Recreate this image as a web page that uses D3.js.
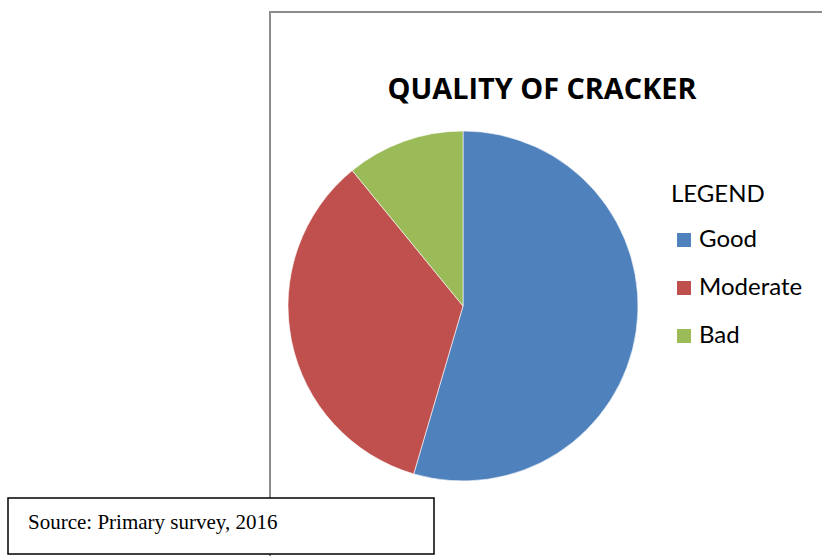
<!DOCTYPE html>
<html>
<head>
<meta charset="utf-8">
<script src="https://cdn.jsdelivr.net/npm/d3@7/dist/d3.min.js"></script>
<style>
  html, body { margin: 0; padding: 0; background: #fff; }
  svg { display: block; }
</style>
</head>
<body>
<svg id="chart" width="822" height="556"></svg>
<script>
// Survey responses on cracker quality
const categories = ["Good", "Moderate", "Bad"];
const counts = [60, 38, 12];
const colors = ["#4F81BD", "#C0504D", "#9BBB59"];
const titleText = "QUALITY OF CRACKER";
const legendTitle = "LEGEND";
const sourceText = "Source: Primary survey, 2016";

const svg = d3.select("#chart");
const data = categories.map((c, i) => ({ category: c, value: counts[i] }));

// chart frame (open on the right)
svg.append("rect")
  .attr("x", 270).attr("y", 12)
  .attr("width", 600).attr("height", 600)
  .attr("fill", "#fff")
  .attr("stroke", "#8c8c8c")
  .attr("stroke-width", 2);

// title
svg.append("text")
  .attr("x", 542).attr("y", 99)
  .attr("text-anchor", "middle")
  .attr("font-family", "'Open Sans', Lato, sans-serif")
  .attr("font-weight", "bold")
  .attr("font-size", 28)
  .attr("textLength", 309)
  .attr("lengthAdjust", "spacingAndGlyphs")
  .attr("fill", "#000")
  .text(titleText);

// pie
const color = d3.scaleOrdinal().domain(categories).range(colors);
const pie = d3.pie().value(d => d.value).sort(null);
const arc = d3.arc().innerRadius(0).outerRadius(175);

const g = svg.append("g").attr("transform", "translate(463,306)");
g.selectAll("path")
  .data(pie(data))
  .join("path")
  .attr("d", arc)
  .attr("fill", d => color(d.data.category))
  .attr("stroke", "#fff")
  .attr("stroke-width", 0.6);

// legend
const legend = svg.append("g")
  .attr("font-family", "Lato, 'Open Sans', sans-serif")
  .attr("fill", "#000");

legend.append("text")
  .attr("x", 671).attr("y", 202)
  .attr("font-size", 24)
  .text(legendTitle);

const items = legend.selectAll("g.item")
  .data(categories)
  .join("g")
  .attr("class", "item")
  .attr("transform", (d, i) => `translate(677,${233 + i * 48})`);

items.append("rect")
  .attr("width", 14).attr("height", 14)
  .attr("fill", d => color(d));

items.append("text")
  .attr("x", 22).attr("y", 14)
  .attr("font-size", 24)
  .text(d => d);

// source note
svg.append("rect")
  .attr("x", 8).attr("y", 498)
  .attr("width", 426).attr("height", 56)
  .attr("fill", "#fff")
  .attr("stroke", "#000")
  .attr("stroke-width", 1.5);

svg.append("text")
  .attr("x", 28).attr("y", 529)
  .attr("font-family", "'Liberation Serif', 'DejaVu Serif', serif")
  .attr("font-size", 21)
  .attr("fill", "#000")
  .text(sourceText);
</script>
</body>
</html>
